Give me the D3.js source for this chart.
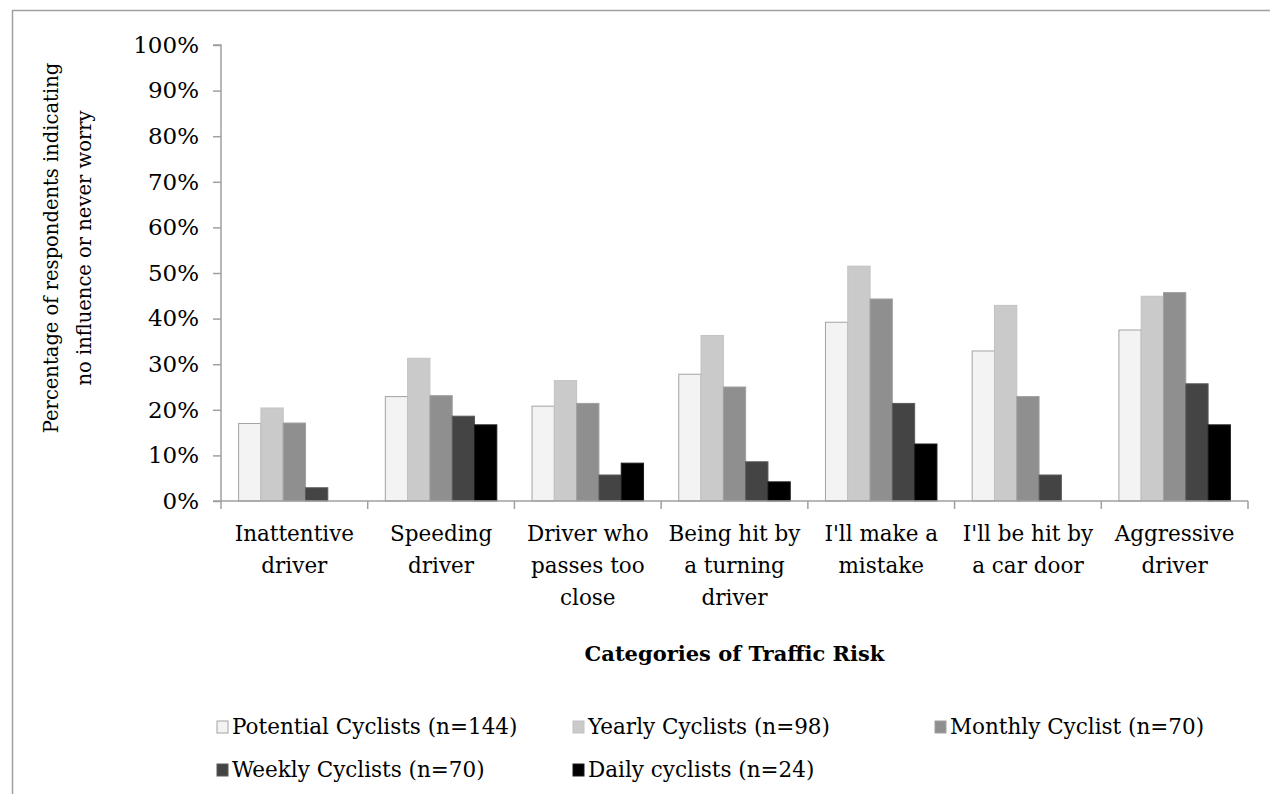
<!DOCTYPE html>
<html>
<head>
<meta charset="utf-8">
<script src="https://cdn.jsdelivr.net/npm/d3@7"></script>
<style>
  body { margin: 0; background: #fff; }
  text { font-family: "DejaVu Serif", serif; fill: #000; }
</style>
</head>
<body>
<svg id="chart" width="1270" height="794"></svg>
<script>
// categories of traffic risk (each label split in lines)
var categories = [
  ["Inattentive", "driver"],
  ["Speeding", "driver"],
  ["Driver who", "passes too", "close"],
  ["Being hit by", "a turning", "driver"],
  ["I'll make a", "mistake"],
  ["I'll be hit by", "a car door"],
  ["Aggressive", "driver"]
];
var seriesNames = ["Potential Cyclists (n=144)", "Yearly Cyclists (n=98)", "Monthly Cyclist (n=70)",
                   "Weekly Cyclists (n=70)", "Daily cyclists (n=24)"];
// percentage values
var potential = [17.0, 22.9, 20.8, 27.8, 39.2, 32.9, 37.5];
var yearly    = [20.4, 31.3, 26.4, 36.3, 51.5, 42.9, 44.9];
var monthly   = [17.1, 23.1, 21.4, 25.0, 44.3, 22.9, 45.7];
var weekly    = [2.9, 18.6, 5.7, 8.6, 21.4, 5.7, 25.7];
var daily     = [0, 16.7, 8.3, 4.2, 12.5, 0, 16.7];
var yTicks = [0, 10, 20, 30, 40, 50, 60, 70, 80, 90, 100];

(function () {
    var series = [potential, yearly, monthly, weekly, daily];
    var fills   = ["#f3f3f3", "#cacaca", "#8f8f8f", "#444444", "#000000"];
    var strokes = ["#a3a3a3", "#c2c2c2", "#a0a0a0", "#5a5a5a", "#1a1a1a"];

    var svg = d3.select("#chart");

    // outer chart frame (cut off at right/bottom)
    svg.append("path")
        .attr("d", "M12.5,800 V10.5 H1280")
        .attr("fill", "none")
        .attr("stroke", "#a0a0a0")
        .attr("stroke-width", 1.5);

    var pLeft = 221, pRight = 1248, pTop = 45, pBottom = 501;

    var x = d3.scaleBand().domain(d3.range(categories.length)).range([pLeft, pRight]);
    var x1 = d3.scaleBand().domain(d3.range(series.length)).range([0, x.bandwidth()]).paddingOuter(0.79);
    var y = d3.scaleLinear().domain([0, 100]).range([pBottom, pTop]);

    // bars
    var groups = svg.append("g").selectAll("g")
        .data(d3.range(categories.length))
        .enter().append("g")
        .attr("transform", function (i) { return "translate(" + x(i) + ",0)"; });

    groups.selectAll("rect")
        .data(function (i) { return series.map(function (s, k) { return {k: k, v: s[i]}; }).filter(function (d) { return d.v > 0; }); })
        .enter().append("rect")
        .attr("x", function (d) { return x1(d.k); })
        .attr("width", x1.bandwidth())
        .attr("y", function (d) { return y(d.v); })
        .attr("height", function (d) { return y(0) - y(d.v); })
        .attr("fill", function (d) { return fills[d.k]; })
        .attr("stroke", function (d) { return strokes[d.k]; })
        .attr("stroke-width", 1);

    // y axis
    var yAxis = svg.append("g")
        .attr("transform", "translate(" + pLeft + ",0)")
        .call(d3.axisLeft(y).tickValues(yTicks).tickSize(8).tickPadding(14)
            .tickFormat(function (d) { return d + "%"; }));
    yAxis.selectAll("path, line").attr("stroke", "#a0a0a0").attr("stroke-width", 1.5);
    yAxis.select(".domain").attr("d", "M-8," + pTop + "H0V" + pBottom + "H-8");
    yAxis.selectAll("text").attr("font-size", 23).attr("font-family", "DejaVu Serif").attr("fill", "#000");

    // x axis
    var xg = svg.append("g");
    xg.append("line")
        .attr("x1", pLeft).attr("x2", pRight).attr("y1", pBottom).attr("y2", pBottom)
        .attr("stroke", "#a0a0a0").attr("stroke-width", 1.5);
    xg.selectAll(".xt")
        .data(d3.range(categories.length + 1))
        .enter().append("line")
        .attr("x1", function (i) { return i < categories.length ? x(i) : pRight; })
        .attr("x2", function (i) { return i < categories.length ? x(i) : pRight; })
        .attr("y1", pBottom).attr("y2", pBottom + 8)
        .attr("stroke", "#a0a0a0").attr("stroke-width", 1.5);

    var labels = xg.selectAll(".xl")
        .data(categories)
        .enter().append("text")
        .attr("text-anchor", "middle")
        .attr("font-size", 21.5)
        .attr("transform", function (d, i) { return "translate(" + (x(i) + x.bandwidth() / 2) + ",541)"; });
    labels.selectAll("tspan")
        .data(function (d) { return d; })
        .enter().append("tspan")
        .attr("x", 0)
        .attr("y", function (d, j) { return j * 32; })
        .text(function (d) { return d; });

    // axis titles
    svg.append("text")
        .attr("x", (pLeft + pRight) / 2).attr("y", 661)
        .attr("text-anchor", "middle")
        .attr("font-weight", "bold")
        .attr("font-size", 21)
        .text("Categories of Traffic Risk");

    var yt = svg.append("text")
        .attr("transform", "translate(58,248) rotate(-90)")
        .attr("text-anchor", "middle")
        .attr("font-size", 19.5);
    yt.append("tspan").attr("x", 0).attr("y", 0).text("Percentage of respondents indicating");
    yt.append("tspan").attr("x", 0).attr("y", 33).text("no influence or never worry");

    // legend
    var legendPos = [[217, 727], [573, 727], [935, 727], [217, 770], [573, 770]];
    var leg = svg.append("g").selectAll("g")
        .data(seriesNames)
        .enter().append("g")
        .attr("transform", function (d, i) { return "translate(" + legendPos[i][0] + "," + legendPos[i][1] + ")"; });
    leg.append("rect")
        .attr("x", 0).attr("y", -6).attr("width", 11).attr("height", 12)
        .attr("fill", function (d, i) { return fills[i]; })
        .attr("stroke", function (d, i) { return strokes[i]; });
    leg.append("text")
        .attr("x", 15).attr("y", 7)
        .attr("font-size", 21.5)
        .text(function (d) { return d; });
})();
</script>
</body>
</html>
